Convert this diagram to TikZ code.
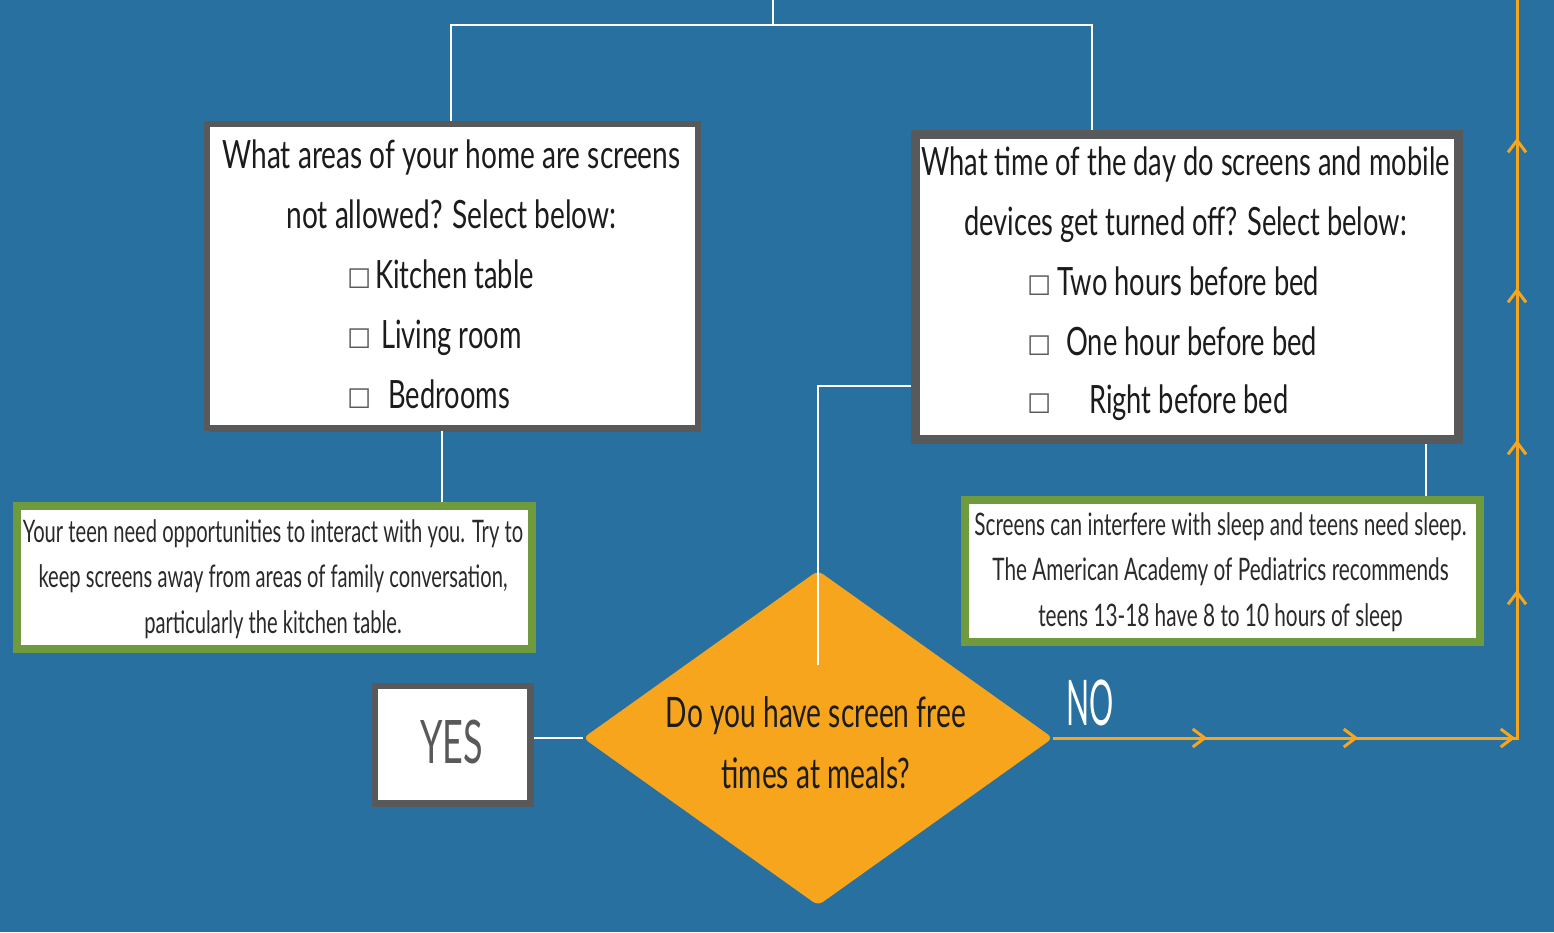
\documentclass[tikz,border=0pt]{standalone}
\usepackage{fontspec}
\setmainfont{Lato}[FakeStretch=0.72]
\newfontfamily\fA{Lato}[FakeStretch=0.70]
\newfontfamily\fB{Lato}[FakeStretch=0.67]
\newfontfamily\fC{Lato}[FakeStretch=0.65]
\newfontfamily\fY{Lato}[FakeStretch=0.60]
\newfontfamily\fN{Lato}[FakeStretch=0.48]
\newfontfamily\cbxfont{DejaVu Sans}
\usetikzlibrary{shapes.geometric,shadows,decorations.markings,arrows.meta}
\definecolor{bgC}{HTML}{2870A0}
\definecolor{orangeC}{HTML}{F7A51C}
\definecolor{greenC}{HTML}{6F9A3D}
\definecolor{boxgray}{HTML}{58595B}
\definecolor{textC}{HTML}{1C1C1C}
\definecolor{ntextC}{HTML}{2A2A2A}
\definecolor{yesC}{HTML}{595959}
\definecolor{cbgray}{HTML}{5A5A5A}
\newcommand\chkbox{{\cbxfont\fontsize{27}{27}\selectfont\textcolor{cbgray}{☐}}}
\begin{document}
\begin{tikzpicture}[x=1pt,y=-1pt,
  wline/.style={draw=white, line width=2.5pt},
  oline/.style={draw=orangeC, line width=3pt},
  qbox/.style={rectangle, fill=white, draw=boxgray, inner sep=0pt},
  gbox/.style={rectangle, fill=white, draw=greenC, line width=8pt, inner sep=0pt},
  dia/.style={diamond, fill=orangeC, inner sep=0pt, minimum width=470pt, minimum height=335pt, rounded corners=6pt},
  qtxt/.style={inner sep=0pt, align=center, text=textC, font=\fontsize{39}{60}\selectfont},
  itemtxt/.style={inner sep=0pt, anchor=base west, text=textC, font=\fA\fontsize{39}{60}\selectfont},
  ntxt/.style={inner sep=0pt, align=center, text=ntextC, font=\fB\fontsize{31}{45.5}\selectfont},
  dtxt/.style={inner sep=0pt, align=center, text=textC, font=\fB\fontsize{42}{61}\selectfont},
  barbtip/.tip={Straight Barb[length=12pt,width=18pt]}
]
\fill[bgC] (0,0) rectangle (1554,932);
\useasboundingbox (0,0) rectangle (1554,932);

% helper coordinates
\coordinate (topin) at (773,0);
\coordinate (tj) at (773,25);
\coordinate (tjL) at (451,25);
\coordinate (tjR) at (1092,25);
\coordinate (c1) at (442,0);
\coordinate (c2) at (1426,0);
\coordinate (j2) at (818,386);
\coordinate (dend) at (818,665);
\coordinate (oend) at (1517,0);

% boxes
\node[qbox, line width=6pt, minimum width=491pt, minimum height=304pt,
      drop shadow={shadow xshift=2pt, shadow yshift=-4pt, fill=boxgray, opacity=1}] (box1) at (452.5,276) {};
\node[qbox, line width=9pt, minimum width=543pt, minimum height=305pt,
      drop shadow={shadow xshift=0pt, shadow yshift=-3pt, fill=boxgray, opacity=1}] (box2) at (1187,287) {};
\node[qbox, line width=6.5pt, minimum width=155.5pt, minimum height=117.5pt] (yes) at (452.5,744.5) {};
\node[gbox, minimum width=515pt, minimum height=143pt] (green1) at (274.5,577.5) {};
\node[gbox, minimum width=515pt, minimum height=142pt] (green2) at (1222,571) {};
\node[dia] (dia) at (818,738) {};
\coordinate (corner) at (oend |- dia.east);

% connectors
\draw[wline] (topin) -- (tj);
\draw[wline] (box1.north -| tjL) -- (tjL) -- (tjR) -- (box2.north -| tjR);
\draw[wline] (box1.south -| c1) -- (green1.north -| c1);
\draw[wline] (box2.south -| c2) -- (green2.north -| c2);
\draw[wline] (yes.east |- dia.west) -- (dia.west);
\draw[wline] (box2.west |- j2) -- (j2) -- (dend);

\draw[oline, postaction={decorate}, decoration={markings,
    mark=at position 154pt with {\arrow{barbtip}},
    mark=at position 305pt with {\arrow{barbtip}},
    mark=at position 462pt with {\arrow{barbtip}},
    mark=at position 612pt with {\arrow{barbtip}},
    mark=at position 762pt with {\arrow{barbtip}},
    mark=at position 914pt with {\arrow{barbtip}},
    mark=at position 1064pt with {\arrow{barbtip}}}]
  (dia.east) -- (corner) -- (oend);

% texts
\node[qtxt] (q1) at (451.5,186.5) {\strut What areas of your home are screens\\ not allowed? Select below:\strut};
\node[itemtxt] (k1) at (347,288) {\makebox[28pt][l]{\chkbox}Kitchen table};
\node[itemtxt] (k2) at (347,348) {\makebox[34pt][l]{\chkbox}Living room};
\node[itemtxt] (k3) at (347,408) {\makebox[41pt][l]{\chkbox}Bedrooms};

\node[qtxt, font=\fA\fontsize{39}{60}\selectfont] (q2) at (1185.5,193) {\strut What time of the day do screens and mobile\\ devices get turned off? Select below:\strut};
\node[itemtxt] (t1) at (1027,295) {\makebox[30pt][l]{\chkbox}Two hours before bed};
\node[itemtxt] (t2) at (1027,355) {\makebox[39pt][l]{\chkbox}One hour before bed};
\node[itemtxt] (t3) at (1027,413) {\makebox[62pt][l]{\chkbox}Right before bed};

\node[ntxt, font=\fC\fontsize{31}{45.5}\selectfont] (n1) at (273,578.4) {\strut Your teen need opportunities to interact with you. Try to\\ keep screens away from areas of family conversation,\\ particularly the kitchen table.\strut};
\node[ntxt] (n2) at (1220.5,571.75) {\strut Screens can interfere with sleep and teens need sleep.\\ The American Academy of Pediatrics recommends\\ teens 13-18 have 8 to 10 hours of sleep\strut};

\node[dtxt] (dq) at (816,745.3) {\strut Do you have screen free\\ times at meals?\strut};

\node[inner sep=0pt, anchor=base, text=yesC, font=\fY\fontsize{60}{60}\selectfont] (yeslbl) at (451.5,763) {YES};
\node[inner sep=0pt, anchor=base, text=white, font=\fN\fontsize{63}{63}\selectfont] (nolbl) at (1090.5,725) {NO};
\end{tikzpicture}
\end{document}
